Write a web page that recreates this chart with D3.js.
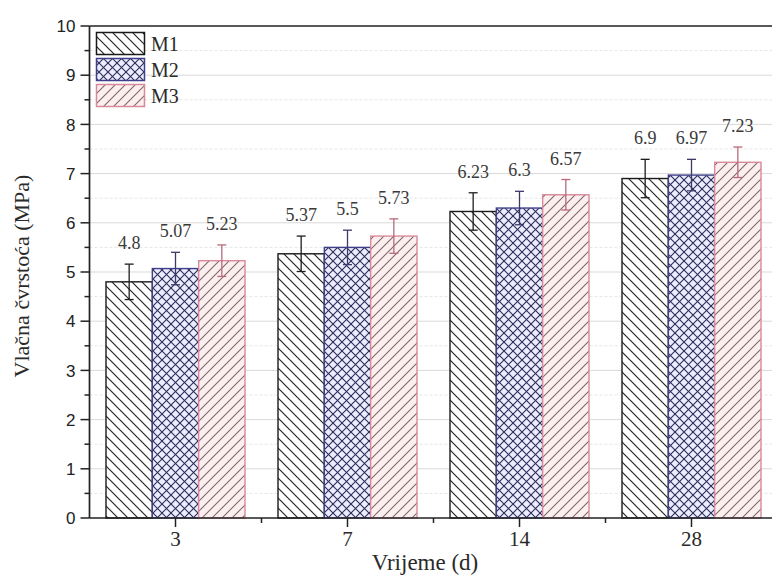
<!DOCTYPE html>
<html><head><meta charset="utf-8">
<script src="https://cdn.jsdelivr.net/npm/d3@7"></script>
<style>body{margin:0;background:#fff;} svg{display:block;}
.serif{font-family:"Liberation Serif","Times New Roman","DejaVu Serif",serif;}
.sans{font-family:"Liberation Sans",Arial,"DejaVu Sans",sans-serif;}
</style>
</head><body>
<svg id="chart" width="772" height="577"></svg>
<script>
const categories = ["3", "7", "14", "28"];
const seriesNames = ["M1", "M2", "M3"];
const M1 = [4.8, 5.37, 6.23, 6.9];
const M2 = [5.07, 5.5, 6.3, 6.97];
const M3 = [5.23, 5.73, 6.57, 7.23];
const M1err = [0.36, 0.36, 0.38, 0.39];
const M2err = [0.33, 0.35, 0.34, 0.32];
const M3err = [0.32, 0.35, 0.31, 0.31];
const valueLabels = [["4.8","5.37","6.23","6.9"],["5.07","5.5","6.3","6.97"],["5.23","5.73","6.57","7.23"]];
const yTicks = [0,1,2,3,4,5,6,7,8,9,10];
const yTitle = "Vlačna čvrstoća (MPa)";
const xTitle = "Vrijeme (d)";

(function(){
const values = [M1, M2, M3];
const errs = [M1err, M2err, M3err];

const svg = d3.select("#chart");
const pLeft = 89.5, pRight = 777.5, pTop = 26, pBottom = 518;

const x0 = d3.scaleBand().domain(categories).range([pLeft, pRight]);
const groupW = 139;
const x1 = d3.scaleBand().domain(seriesNames).range([0, groupW]);
const y = d3.scaleLinear().domain([0, 10]).range([pBottom, pTop]);

const defs = svg.append("defs");
const styles = {
  M1: {stroke:"#1a1a1a", fill:"#ffffff", hatch:"#262626", err:"#1e1e1e"},
  M2: {stroke:"#40408a", fill:"#ececff", hatch:"#2c2c58", err:"#3a3a6a"},
  M3: {stroke:"#d88a9a", fill:"#fcefef", hatch:"#806868", err:"#b86a7a"}
};
function hatch(id, size, fill, color, type, sw){
  const p = defs.append("pattern").attr("id", id).attr("patternUnits","userSpaceOnUse")
    .attr("width", size).attr("height", size);
  p.append("rect").attr("width", size).attr("height", size).attr("fill", fill);
  const s = size;
  const back = `M${-s/2},${-s/2} L${s*1.5},${s*1.5} M${-s/2},${s/2} L${s/2},${s*1.5} M${s/2},${-s/2} L${s*1.5},${s/2}`;
  const fwd = `M${-s/2},${s*1.5} L${s*1.5},${-s/2} M${-s/2},${s/2} L${s/2},${-s/2} M${s/2},${s*1.5} L${s*1.5},${s/2}`;
  if (type === "back" || type === "cross")
    p.append("path").attr("d", back).attr("stroke", color).attr("stroke-width", sw).attr("fill","none");
  if (type === "fwd" || type === "cross")
    p.append("path").attr("d", fwd).attr("stroke", color).attr("stroke-width", sw).attr("fill","none");
}
hatch("pM1", 10, styles.M1.fill, styles.M1.hatch, "back", 1.2);
hatch("pM2", 9, styles.M2.fill, styles.M2.hatch, "cross", 1.1);
hatch("pM3", 10, styles.M3.fill, styles.M3.hatch, "fwd", 1.1);

// grid
const grid = svg.append("g");
d3.range(0.5, 10, 0.5).forEach(v => {
  const major = Number.isInteger(v);
  grid.append("line").attr("x1", pLeft).attr("x2", 772).attr("y1", y(v)).attr("y2", y(v))
    .attr("stroke", major ? "#d9d9d9" : "#e6e6e6").attr("stroke-width", 1)
    .attr("stroke-dasharray", major ? null : "3,2");
});

// bars
const bars = svg.append("g");
seriesNames.forEach((s, si) => {
  categories.forEach((c, ci) => {
    const bx = x0(c) + (x0.bandwidth() - groupW)/2 + x1(s);
    const v = values[si][ci];
    bars.append("rect").attr("x", bx).attr("y", y(v)).attr("width", x1.bandwidth())
      .attr("height", y(0) - y(v)).attr("fill", `url(#p${s})`)
      .attr("stroke", styles[s].stroke).attr("stroke-width", 1.4);
  });
});

// error bars and labels
const eb = svg.append("g");
seriesNames.forEach((s, si) => {
  categories.forEach((c, ci) => {
    const cx = x0(c) + (x0.bandwidth() - groupW)/2 + x1(s) + x1.bandwidth()/2;
    const v = values[si][ci], e = errs[si][ci];
    const col = styles[s].err;
    eb.append("line").attr("x1", cx).attr("x2", cx).attr("y1", y(v+e)).attr("y2", y(v-e)).attr("stroke", col).attr("stroke-width", 1.3);
    [v+e, v-e].forEach(t => eb.append("line").attr("x1", cx-4.5).attr("x2", cx+4.5).attr("y1", y(t)).attr("y2", y(t)).attr("stroke", col).attr("stroke-width", 1.3));
    eb.append("text").attr("class","serif").attr("x", cx).attr("y", y(v+e) - 15).attr("text-anchor","middle")
      .attr("font-size", 18).attr("fill","#3a3a3a")
      .text(valueLabels[si][ci]);
  });
});

// axes
const ax = svg.append("g");
ax.append("line").attr("x1", pLeft).attr("x2", pLeft).attr("y1", pTop).attr("y2", pBottom).attr("stroke","#222").attr("stroke-width",1.7);
ax.append("line").attr("x1", pLeft).attr("x2", 772).attr("y1", pTop).attr("y2", pTop).attr("stroke","#222").attr("stroke-width",1.7);
ax.append("line").attr("x1", pLeft).attr("x2", 772).attr("y1", pBottom).attr("y2", pBottom).attr("stroke","#222").attr("stroke-width",1.7);

yTicks.forEach(t => {
  ax.append("line").attr("x1", pLeft-9).attr("x2", pLeft).attr("y1", y(t)).attr("y2", y(t)).attr("stroke","#222").attr("stroke-width",1.5);
  ax.append("text").attr("class","sans").attr("x", pLeft-14).attr("y", y(t)).attr("dy","0.36em").attr("text-anchor","end")
    .attr("font-size", 17).attr("fill","#222").text(t);
});
d3.range(0.5, 10, 1).forEach(t => {
  ax.append("line").attr("x1", pLeft-5).attr("x2", pLeft).attr("y1", y(t)).attr("y2", y(t)).attr("stroke","#222").attr("stroke-width",1.5);
});
categories.forEach((c, i) => {
  const cx = x0(c) + x0.bandwidth()/2;
  ax.append("line").attr("x1", cx).attr("x2", cx).attr("y1", pBottom).attr("y2", pBottom+9).attr("stroke","#222").attr("stroke-width",1.5);
  ax.append("text").attr("class","serif").attr("x", cx).attr("y", 546).attr("text-anchor","middle")
    .attr("font-size", 21).attr("fill","#2a2a2a").text(c);
  if (i > 0) ax.append("line").attr("x1", x0(c)).attr("x2", x0(c)).attr("y1", pBottom).attr("y2", pBottom+5).attr("stroke","#222").attr("stroke-width",1.5);
});

// titles
svg.append("text").attr("class","serif").attr("transform","translate(29,276) rotate(-90)").attr("text-anchor","middle")
  .attr("font-size", 22).attr("fill","#2a2a2a").text(yTitle);
svg.append("text").attr("class","serif").attr("x", 425).attr("y", 570).attr("text-anchor","middle")
  .attr("font-size", 23).attr("fill","#2a2a2a").text(xTitle);

// legend
const lg = svg.append("g");
seriesNames.forEach((s, i) => {
  const ly = 32.5 + i*26;
  lg.append("rect").attr("x", 96.5).attr("y", ly).attr("width", 48).attr("height", 22)
    .attr("fill", `url(#p${s})`).attr("stroke", styles[s].stroke).attr("stroke-width", 1.5);
  lg.append("text").attr("class","serif").attr("x", 151).attr("y", ly + 18)
    .attr("font-size", 20).attr("fill","#2a2a2a").text(s);
});
})();
</script>
</body></html>
